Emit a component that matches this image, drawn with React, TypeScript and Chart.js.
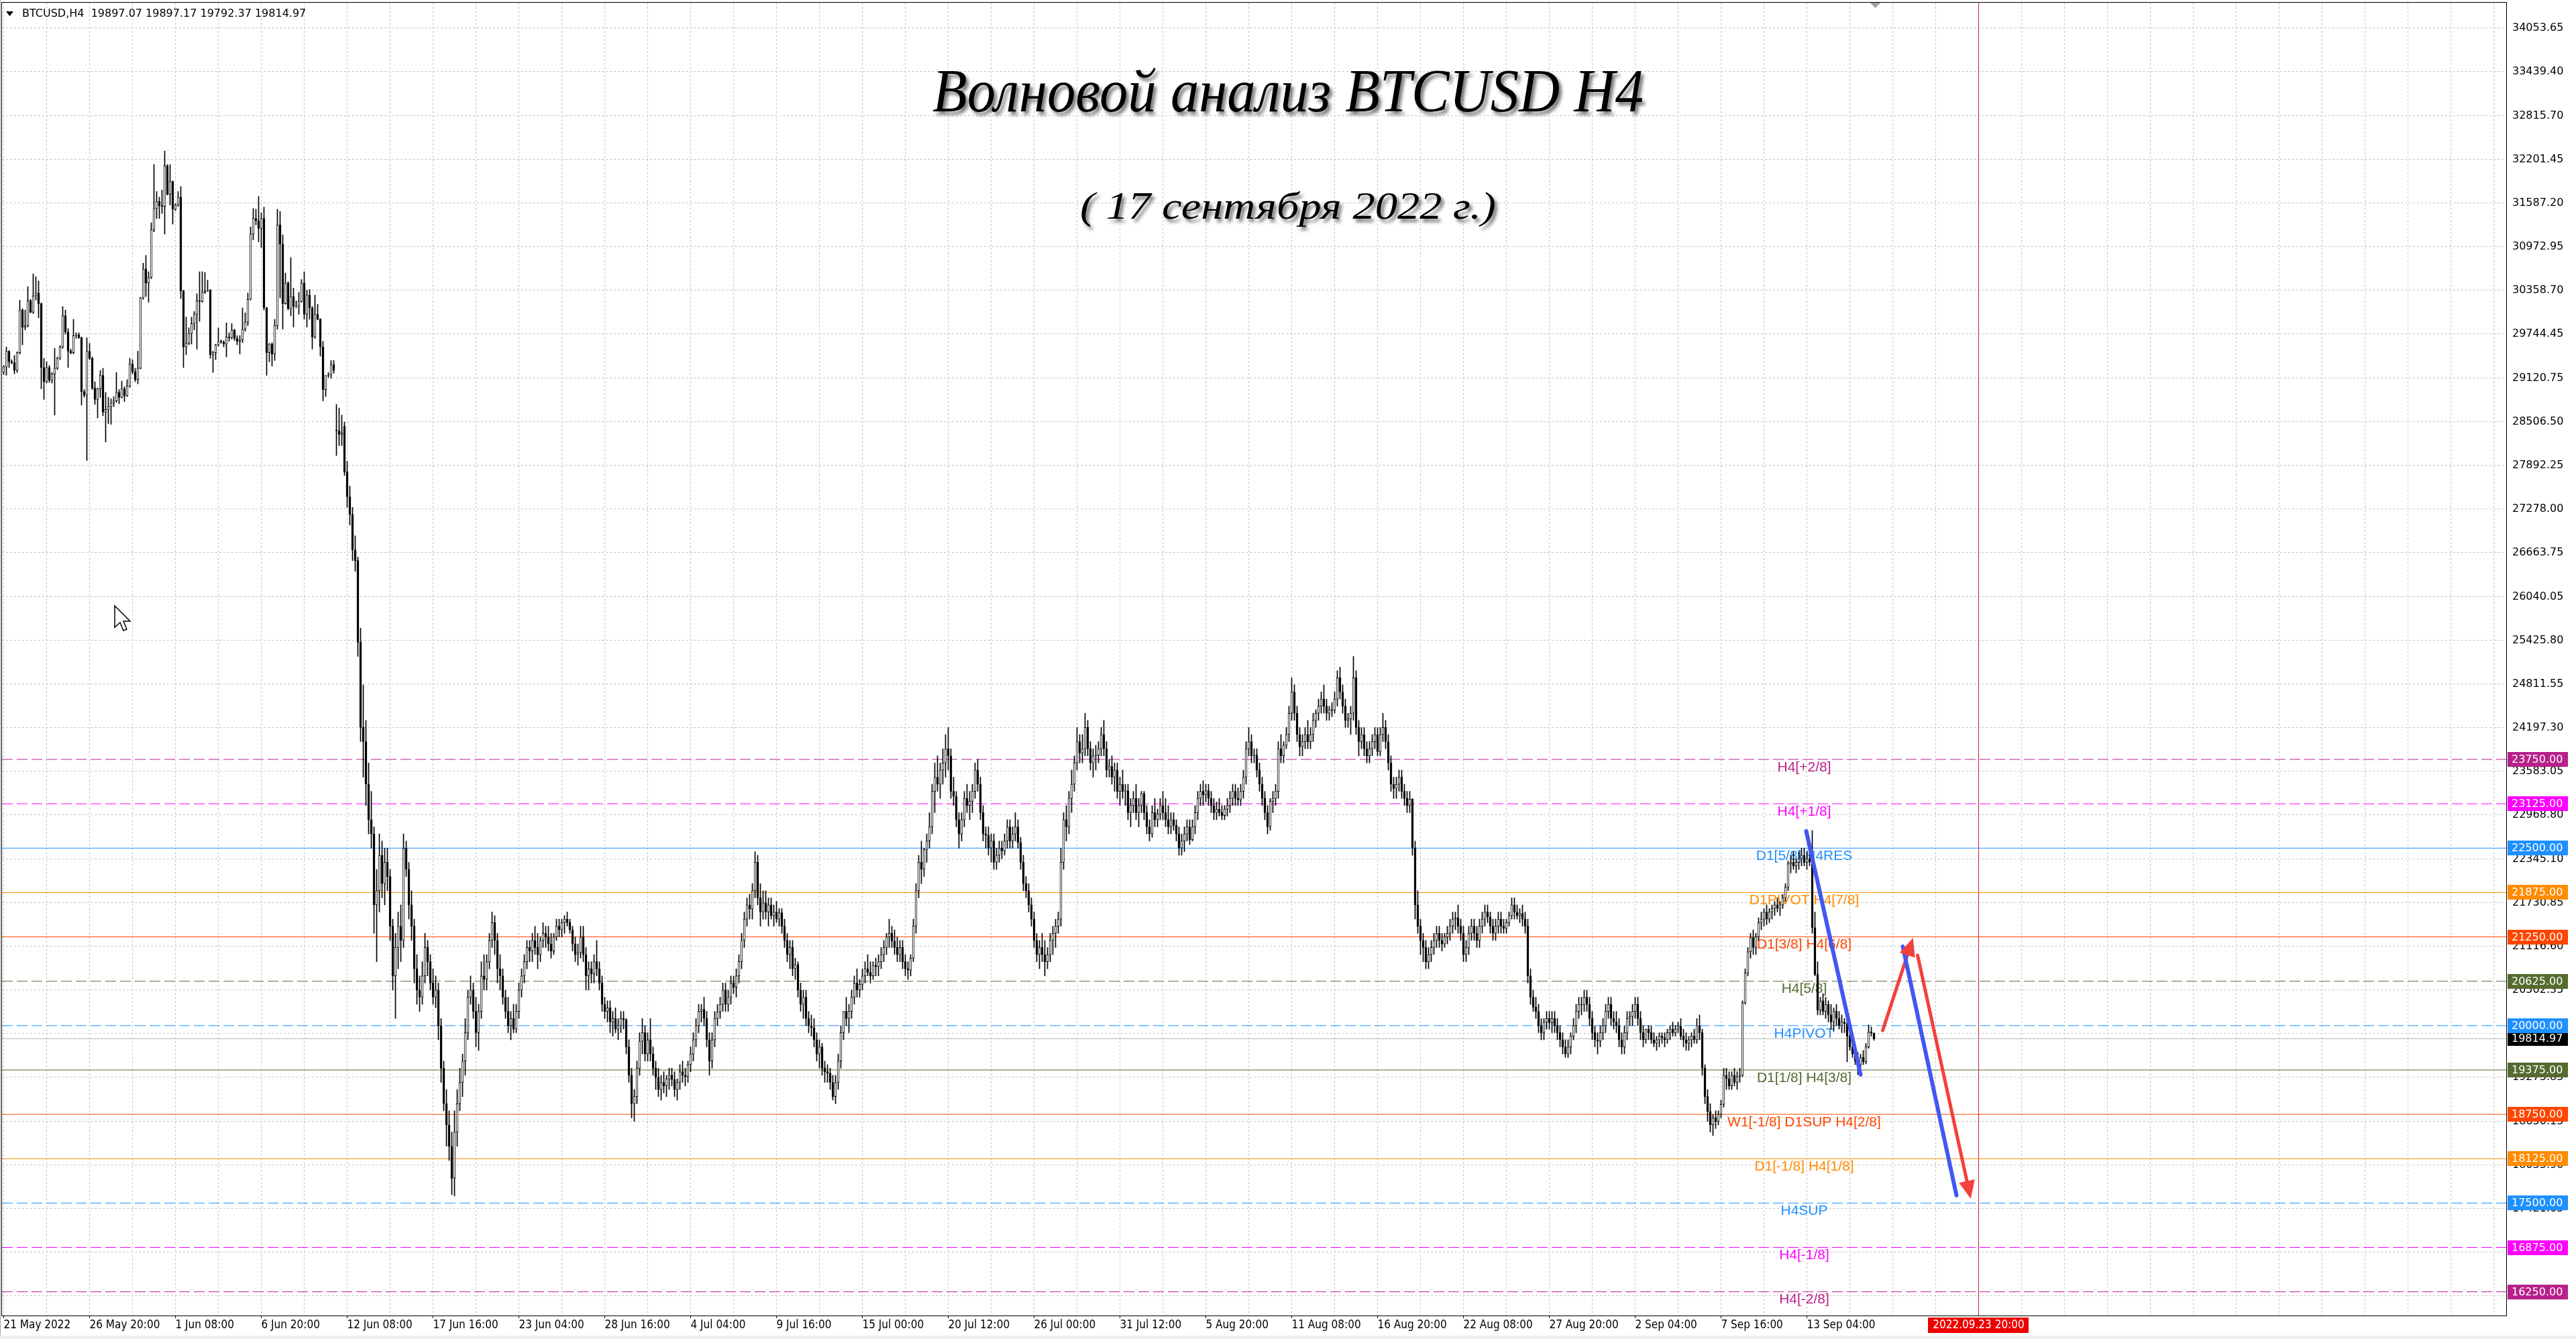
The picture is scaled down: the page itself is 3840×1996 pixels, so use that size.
import { useEffect, useRef } from "react";
import { Chart, registerables } from "chart.js";

Chart.register(...registerables);

const headerText = "BTCUSD,H4  19897.07 19897.17 19792.37 19814.97";
const titleText = "Волновой анализ BTCUSD H4";
const subtitleText = "( 17 сентября 2022 г.)";

// H4 candles: [open, high, low, close]
const candlesMay = [
  [29200,29300,29170,29280],[29280,29560,29160,29500],[29500,29510,29270,29350],[29350,29380,29320,29340],[29340,29440,29180,29230],
  [29230,29490,29200,29480],[29480,30220,29460,30080],[30080,30100,29590,29840],[29840,30080,29800,29860],[29860,30410,29840,30210],
  [30210,30230,30040,30050],[30050,30590,30030,30280],[30280,30550,30220,30320],[30320,30490,29970,30170],[30170,30180,28970,29270],
  [29270,29400,28820,29070],[29070,29350,29050,29270],[29270,29300,29060,29090],[29090,29200,29050,29180],[29180,29540,28600,29260],
  [29260,29420,29240,29400],[29400,29580,29380,29560],[29560,30130,29540,30000],[30000,30080,29740,29770],[29770,29820,29270,29500],
  [29500,29530,29460,29480],[29480,29950,29460,29720],[29720,29760,29680,29730],[29730,29760,29680,29690],[29690,29700,28740,28930],
  [28930,28960,28850,28880],[28880,29690,27960,29500],[29500,29610,29380,29400],[29400,29420,28960,28980],[28980,29070,28750,28820],
  [28820,28980,28560,28970],[28970,29230,28850,29160],[29160,29260,28590,28640],[28640,28920,28220,28680],[28680,28850,28480,28720],
  [28720,28830,28470,28770],[28770,28860,28720,28800],[28800,29200,28780,28920],[28920,28960,28760,28850],[28850,29080,28840,28970],
  [28970,29000,28790,28870],[28870,29100,28860,29010],[29010,29400,28990,29320],[29320,29380,29180,29210],[29210,29260,29070,29100],
  [29100,29500,29040,29260],[29260,30260,29250,30250],[30250,30740,30230,30660],[30660,30850,30270,30460],[30460,30620,30190,30540],
  [30540,31310,30520,31210],[31210,32130,31180,31510],[31510,31750,31370,31610],[31610,31670,31370,31550],[31550,31770,31440,31540],
  [31540,32320,31150,32110],[32110,32130,31700,31710],
];
const candlesJun = [
  [31710,32130,31560,31890],[31890,31900,31290,31500],[31500,31580,31480,31560],[31560,31750,31540,31670],[31670,31820,30240,30350],
  [30350,30360,29270,29560],[29560,29980,29450,29610],[29610,29830,29590,29750],[29750,29980,29600,29890],[29890,30060,29800,30020],
  [30020,30310,29530,30210],[30210,30620,29920,30200],[30200,30620,30190,30330],[30330,30610,30310,30350],[30350,30500,30340,30360],
  [30360,30370,29400,29450],[29450,29500,29200,29480],[29480,29600,29380,29590],[29590,29830,29570,29640],[29640,29660,29610,29630],
  [29630,29650,29560,29600],[29600,29900,29420,29700],[29700,29760,29640,29690],[29690,29890,29670,29800],[29800,29810,29650,29680],
  [29680,29720,29590,29640],[29640,29720,29460,29660],[29660,30110,29620,29810],[29810,30040,29780,29910],[29910,30320,29860,30230],
  [30230,31250,30220,31150],[31150,31510,31070,31370],[31370,31500,31280,31340],[31340,31680,31040,31230],[31230,31450,30960,31370],
  [31370,31530,30080,30110],[30110,30120,29160,29480],[29480,29610,29350,29600],[29600,29620,29290,29460],[29460,29950,29370,29860],
  [29860,31500,29810,31280],[31280,31470,30250,31010],[31010,31140,29810,30170],[30170,30600,30160,30460],[30460,30480,30080,30100],
  [30100,30820,30000,30270],[30270,30390,29840,30130],[30130,30210,30110,30140],[30140,30330,30020,30200],[30200,30510,30190,30460],
  [30460,30620,29950,30020],[30020,30360,29840,30290],[30290,30370,29950,30110],[30110,30130,29530,29700],[29700,30290,29680,30020],
  [30020,30160,29940,29950],[29950,29960,29430,29560],[29560,29640,28800,28960],[28960,29010,28860,29160],[29160,29200,29130,29170],
  [29170,29370,29120,29310],[29310,29370,29190,29230],[28390,28750,28030,28380],[28380,28700,28170,28330],[28330,28600,28170,28350],
  [28440,28500,27750,27800],[27800,27950,27300,27450],[27450,27600,27050,27200],[27200,27300,26550,26700],[26700,26900,26400,26550],
  [26550,26600,25200,25400],[25400,25600,24000,24200],[24200,24800,23500,24000],[24000,24300,23100,23400],[23400,23700,22700,22900],
  [22900,23300,22500,22700],[22700,22800,21300,21700],[21700,22200,20900,21900],[21900,22700,21600,22400],[22400,22600,21800,22000],
  [22000,22500,21700,22300],[22300,22500,21900,22100],[22100,22200,21200,21400],[21400,21500,20500,20700],[20700,21300,20100,21100],
  [21100,21600,20800,21400],[21400,21700,20900,21200],[21200,22700,21100,22500],[22500,22600,22100,22200],[22200,22300,21500,21700],
  [21700,21900,21200,21400],[21400,21500,20600,20800],[20800,21000,20300,20500],[20500,20700,20200,20400],[20400,20900,20300,20700],
  [20700,21300,20600,21100],[21100,21200,20700,20900],[20900,21000,20500,20600],[20600,20800,20300,20400],[20400,20700,20250,20500],
  [20500,20600,19800,20000],[20000,20100,19200,19400],[19400,19500,18800,18900],[18900,19100,18300,18600],[18600,18800,18100,18300],
  [18300,18500,17620,17850],[17850,18800,17600,18500],[18500,19100,18300,18900],[18900,19400,18800,19200],[19200,19600,19000,19500],
  [19500,20100,19300,19900],[19900,20500,19800,20400],[20400,20700,20300,20500],[20500,20600,20100,20200],[20200,20400,19700,19900],
  [19900,20300,19650,20200],[20200,20900,20100,20700],[20700,21000,20500,20650],[20650,21000,20500,20900],[20900,21300,20800,21200],
  [21200,21600,21100,21450],[21450,21550,21000,21200],[21200,21300,20600,20800],[20800,21000,20500,20700],[20700,20800,20300,20400],
  [20400,20500,20100,20200],[20200,20400,19900,20000],[20000,20200,19800,20100],[20100,20300,19900,19950],[19950,20300,19900,20200],
  [20200,20600,20100,20500],[20500,20800,20400,20700],[20700,21000,20600,20900],[20900,21200,20800,21100],[21100,21200,20900,21050],
  [21050,21300,20900,21200],[21200,21400,21000,21100],[21100,21300,20800,21000],[21000,21250,20900,21200],[21200,21450,21100,21300],
  [21300,21400,21100,21250],[21250,21400,21050,21150],[21150,21300,20950,21050],[21050,21300,21000,21250],[21250,21500,21200,21400],
  [21400,21500,21250,21350],[21350,21500,21250,21450],[21450,21550,21300,21500],[21500,21600,21400,21450],[21450,21500,21300,21350],
  [21350,21400,21050,21150],[21150,21250,20900,21000],[21000,21150,20850,21030],[21030,21400,20950,21250],[21250,21400,20900,21000],
  [21000,21100,20500,20700],[20700,20900,20500,20800],[20800,20900,20600,20730],[20730,21000,20600,20900],[20900,21200,20700,20800],
  [20800,20900,20500,20600],[20600,20700,20200,20300],[20300,20400,20100,20200],[20200,20350,20050,20250],[20250,20350,19900,20050],
  [20050,20200,19850,20100],[20100,20250,19900,19950],[19950,20100,19800,20000],[20000,20200,19900,20100],[20100,20200,19950,20080],
  [20080,20100,19600,19700],[19700,19800,19200,19300],[19300,19400,18700,18900],[18900,19100,18650,19000],[19000,19500,18900,19400],
  [19400,19900,19300,19780],
];
const candlesJul = [
  [19780,20100,19600,19900],[19900,20000,19500,19600],[19600,19900,19500,19800],[19800,20100,19500,19600],[19600,19700,19300,19400],
  [19400,19500,19100,19270],[19270,19400,19000,19100],[19100,19300,18950,19200],[19200,19350,19050,19150],[19150,19300,19000,19250],
  [19250,19400,19100,19300],[19300,19400,19150,19240],[19240,19350,19000,19100],[19100,19250,18950,19200],[19200,19450,19100,19350],
  [19350,19500,19200,19300],[19300,19400,19150,19280],[19280,19500,19200,19450],[19450,19700,19350,19600],[19600,19900,19500,19800],
  [19800,20100,19700,20000],[20000,20300,19900,20200],[20200,20300,20050,20230],[20230,20400,20000,20100],[20100,20200,19700,19800],
  [19800,19900,19300,19500],[19500,19900,19400,19800],[19800,20200,19700,20100],[20100,20300,20000,20190],[20190,20400,20100,20300],
  [20300,20600,20200,20500],[20500,20600,20200,20300],[20300,20500,20200,20400],[20400,20700,20300,20600],[20600,20700,20450,20540],
  [20540,20800,20400,20700],[20700,21000,20600,20900],[20900,21300,20800,21200],[21200,21600,21100,21500],[21500,21800,21400,21700],
  [21700,21850,21500,21640],[21640,22000,21500,21900],[21900,22450,21800,22300],[22300,22400,21700,21800],[21800,22000,21400,21600],
  [21600,21900,21500,21730],[21730,21900,21500,21600],[21600,21800,21400,21700],[21700,21800,21500,21550],[21550,21700,21400,21600],
  [21600,21750,21450,21500],[21500,21650,21400,21590],[21590,21650,21300,21400],[21400,21500,21100,21200],[21200,21300,20900,21000],
  [21000,21200,20800,21100],[21100,21200,20700,20800],[20800,20950,20650,20860],[20860,20900,20400,20500],[20500,20600,20200,20300],
  [20300,20500,20100,20400],[20400,20500,20000,20100],[20100,20200,19900,20000],[20000,20150,19850,19970],[19970,20100,19700,19800],
  [19800,19900,19500,19600],[19600,19800,19400,19700],[19700,19750,19300,19400],[19400,19500,19200,19350],[19350,19450,19200,19330],
  [19330,19400,19100,19200],[19200,19300,18950,19000],[19000,19300,18900,19200],[19200,19600,19100,19500],[19500,20000,19400,19900],
  [19900,20200,19800,20200],[20200,20400,20000,20100],[20100,20300,19900,20200],[20200,20500,20100,20400],[20400,20700,20300,20600],
  [20600,20800,20400,20500],[20500,20650,20400,20580],[20580,20800,20500,20700],[20700,20900,20600,20800],[20800,21000,20700,20750],
  [20750,20900,20600,20700],[20700,20900,20650,20850],[20850,20950,20700,20830],[20830,21000,20700,20900],[20900,21100,20800,21000],
  [21000,21200,20900,21100],[21100,21300,21000,21250],[21250,21500,21100,21300],[21300,21400,21100,21190],[21190,21350,21000,21100],
  [21100,21250,20900,21000],[21000,21200,20900,21100],[21100,21200,20800,20900],[20900,21000,20700,20800],[20800,20900,20650,20780],
  [20780,21000,20700,20950],[20950,21500,20900,21400],[21400,22000,21300,21900],[21900,22400,21800,22300],[22300,22600,22000,22200],
  [22200,22500,22100,22480],[22480,22700,22300,22600],[22600,23000,22500,22800],[22800,23400,22700,23300],[23300,23700,23000,23500],
  [23500,23800,23300,23400],[23400,23700,23200,23600],[23600,23900,23400,23700],[23700,24100,23500,23900],[23900,24200,23600,23800],
  [23800,23900,23200,23300],[23300,23500,23100,23230],[23230,23300,22800,22900],[22900,23000,22500,22700],[22700,23000,22600,22900],
  [22900,23300,22800,23200],[23200,23400,23000,23100],[23100,23300,22900,23160],[23160,23400,23000,23300],[23300,23700,23200,23600],
  [23600,23750,23300,23400],[23400,23500,22900,23000],[23000,23100,22600,22700],[22700,22800,22500,22680],[22680,22800,22400,22500],
  [22500,22700,22300,22600],[22600,22700,22200,22300],[22300,22500,22200,22400],[22400,22600,22300,22500],[22500,22600,22350,22460],
  [22460,22700,22400,22600],[22600,22900,22500,22800],[22800,22900,22500,22600],[22600,22800,22500,22700],[22700,23000,22600,22800],
  [22800,22900,22500,22580],[22580,22650,22200,22300],[22300,22400,21900,22000],[22000,22100,21800,21900],[21900,22000,21600,21700],
  [21700,21800,21400,21500],[21500,21600,21100,21200],[21200,21300,20900,21000],[21000,21200,20800,21100],[21100,21300,20900,21000],
  [21000,21200,20700,20900],[20900,21100,20800,21000],[21000,21300,20900,21200],[21200,21400,21000,21300],[21300,21500,21100,21400],
  [21400,21600,21300,21500],[21500,22500,21400,22300],[22300,23000,22200,22900],[22900,23100,22600,22800],[22800,23300,22700,23200],
  [23200,23600,23000,23400],[23400,23800,23300,23700],[23700,24200,23600,24000],[24000,24100,23700,23840],[23840,24100,23700,23900],
  [23900,24400,23800,24200],[24200,24300,23800,23900],[23900,24000,23600,23700],[23700,23900,23500,23800],[23800,23950,23600,23810],
  [23810,24000,23700,23900],[23900,24200,23800,24100],[24100,24300,23800,23900],[23900,24000,23500,23600],[23600,23750,23500,23650],
  [23650,23800,23400,23500],[23500,23700,23300,23600],[23600,23700,23200,23300],[23300,23500,23100,23400],[23400,23600,23200,23300],
  [23300,23400,23100,23310],
];
const candlesAug = [
  [23310,23400,22900,23000],[23000,23200,22800,23100],[23100,23300,23000,23200],[23200,23400,22900,23000],[23000,23200,22800,23100],
  [23100,23300,23000,23270],[23270,23300,22900,23000],[23000,23100,22700,22800],[22800,22900,22600,22700],[22700,23100,22650,23000],
  [23000,23200,22800,22900],[22900,23050,22800,22980],[22980,23200,22900,23100],[23100,23300,22900,23000],[23000,23200,22800,22900],
  [22900,23100,22700,22800],[22800,23000,22700,22900],[22900,23000,22750,22820],[22820,22900,22600,22700],[22700,22800,22400,22500],
  [22500,22700,22400,22600],[22600,22800,22450,22700],[22700,22900,22600,22800],[22800,22900,22550,22620],[22620,22900,22600,22800],
  [22800,23100,22700,23000],[23000,23300,22900,23200],[23200,23400,23100,23300],[23300,23450,23100,23250],[23250,23400,23150,23310],
  [23310,23400,23100,23200],[23200,23300,23000,23100],[23100,23200,22900,23000],[23000,23150,22900,23050],[23050,23200,22950,23000],
  [23000,23100,22900,22960],[22960,23100,22900,23050],[23050,23200,22950,23100],[23100,23300,23000,23200],[23200,23400,23100,23300],
  [23300,23400,23100,23200],[23200,23350,23100,23180],[23180,23400,23100,23300],[23300,23600,23200,23500],[23500,24000,23400,23900],
  [23900,24200,23800,24000],[24000,24100,23700,23800],[23800,23900,23700,23810],[23810,23900,23500,23600],[23600,23700,23300,23400],
  [23400,23500,23100,23200],[23200,23300,22900,23000],[23000,23100,22700,22800],[22800,23200,22750,23160],[23160,23300,23000,23200],
  [23200,23400,23100,23300],[23300,24000,23200,23900],[23900,24100,23700,23800],[23800,24000,23700,23950],[23950,24200,23900,24100],
  [24100,24500,24000,24400],[24400,24900,24300,24700],[24700,24800,24300,24400],[24400,24500,24000,24100],[24100,24200,23800,23930],
  [23930,24100,23800,24000],[24000,24200,23900,24100],[24100,24300,23900,24000],[24000,24200,23900,24100],[24100,24400,24000,24300],
  [24300,24450,24200,24400],[24400,24600,24300,24500],[24500,24700,24400,24600],[24600,24800,24400,24500],[24500,24600,24300,24400],
  [24400,24500,24300,24450],[24450,24550,24350,24440],[24440,24700,24400,24600],[24600,25000,24500,24900],[24900,25050,24600,24700],
  [24700,24800,24400,24500],[24500,24600,24200,24300],[24300,24400,24200,24320],[24320,24500,24100,24400],[24400,25200,24300,24900],
  [24900,25000,24100,24200],[24200,24300,23800,24000],[24000,24200,23900,24100],[24100,24200,23800,23900],[23900,24000,23700,23800],
  [23800,24000,23700,23900],[23900,24100,23800,24000],[24000,24200,23900,24100],[24100,24200,23800,23860],[23860,24200,23800,24100],
  [24100,24400,24000,24200],[24200,24300,23900,24000],[24000,24100,23600,23700],[23700,23800,23300,23400],[23400,23500,23200,23340],
  [23340,23500,23200,23400],[23400,23600,23300,23500],[23500,23600,23200,23300],[23300,23400,23100,23200],[23200,23300,23000,23100],
  [23100,23300,23000,23190],[23190,23200,22400,22500],[22500,22600,21500,21700],[21700,21900,21300,21400],[21400,21500,21000,21200],
  [21200,21300,20900,21100],[21100,21200,20800,20900],[20900,21100,20800,21000],[21000,21200,20900,21100],[21100,21300,21000,21200],
  [21200,21400,21100,21300],[21300,21400,21100,21200],[21200,21300,21050,21150],[21150,21300,21100,21250],[21250,21400,21150,21300],
  [21300,21500,21200,21400],[21400,21600,21300,21500],[21500,21600,21350,21520],[21520,21700,21300,21400],[21400,21500,21200,21300],
  [21300,21400,20900,21000],[21000,21200,20900,21100],[21100,21400,21000,21300],[21300,21500,21200,21400],[21400,21500,21200,21300],
  [21300,21400,21100,21200],[21200,21500,21100,21400],[21400,21600,21300,21500],[21500,21700,21400,21600],[21600,21700,21450,21530],
  [21530,21600,21300,21400],[21400,21500,21200,21300],[21300,21500,21200,21400],[21400,21600,21300,21500],[21500,21600,21300,21400],
  [21400,21500,21300,21370],[21370,21500,21300,21450],[21450,21600,21400,21550],[21550,21800,21500,21700],[21700,21800,21500,21600],
  [21600,21700,21500,21550],[21550,21650,21450,21580],[21580,21700,21400,21500],[21500,21600,21300,21400],[21400,21500,20600,20700],
  [20700,20800,20300,20400],[20400,20500,20200,20260],[20260,20400,20100,20200],[20200,20300,19900,20000],[20000,20100,19800,19900],
  [19900,20100,19800,20050],[20050,20200,19950,20100],[20100,20200,19950,20040],[20040,20200,19900,20100],[20100,20200,19900,20000],
  [20000,20100,19800,19900],[19900,20000,19700,19800],[19800,19900,19600,19700],[19700,19800,19550,19600],[19600,19800,19550,19700],
  [19700,19900,19600,19850],[19850,20100,19800,20000],[20000,20300,19900,20200],[20200,20400,20100,20300],[20300,20400,20150,20290],
  [20290,20500,20200,20400],[20400,20500,20200,20300],[20300,20400,20000,20100],[20100,20200,19800,19900],[19900,20000,19700,19800],
  [19800,19900,19600,19780],[19780,20000,19700,19900],[19900,20100,19800,20000],[20000,20300,19900,20200],[20200,20400,20100,20300],
  [20300,20400,20000,20100],[20100,20200,19950,20050],[20050,20200,19900,20000],[20000,20100,19700,19800],[19800,19900,19600,19700],
  [19700,20000,19600,19900],[19900,20200,19800,20100],[20100,20200,20000,20130],
];
const candlesSep = [
  [20130,20300,20000,20200],[20200,20400,20100,20300],[20300,20400,20000,20100],[20100,20200,19800,19900],[19900,20000,19700,19800],
  [19800,19950,19750,19950],[19950,20000,19800,19900],[19900,20000,19750,19800],[19800,19900,19700,19750],[19750,19850,19650,19800],
  [19800,19900,19700,19850],[19850,19900,19750,19830],[19830,19900,19700,19800],[19800,19950,19750,19900],[19900,20000,19800,19950],
  [19950,20050,19850,19900],[19900,20000,19850,19950],[19950,20050,19900,19990],[19990,20100,19800,19850],[19850,19950,19700,19800],
  [19800,19900,19650,19750],[19750,19850,19650,19800],[19800,19900,19700,19850],[19850,19950,19750,19800],[19800,20100,19750,20000],
  [20000,20150,19800,19900],[19900,19950,19300,19400],[19400,19450,18900,19000],[19000,19100,18650,18790],[18790,18900,18500,18600],
  [18600,18750,18450,18700],[18700,18800,18550,18650],[18650,18800,18600,18750],[18750,18950,18700,18890],[18890,19400,18850,19300],
  [19300,19400,19100,19250],[19250,19350,19100,19150],[19150,19350,19100,19300],[19300,19400,19150,19200],[19200,19350,19100,19280],
  [19280,19400,19200,19300],[19300,20350,19280,20320],[20320,20800,20300,20740],[20740,21100,20700,21040],[21040,21300,20950,21240],
  [21240,21350,21000,21100],[21100,21300,21000,21250],[21250,21520,21200,21450],[21450,21600,21350,21500],[21500,21650,21400,21600],
  [21600,21700,21420,21500],[21500,21650,21450,21600],[21600,21700,21500,21650],[21650,21750,21550,21700],[21700,21800,21600,21650],
  [21650,21750,21550,21700],[21700,21850,21650,21800],[21800,22000,21750,21950],[21950,22320,21900,22280],[22280,22400,22150,22300],
  [22300,22450,22200,22250],[22250,22350,22150,22300],[22300,22450,22200,22350],[22350,22500,22250,22400],[22400,22500,22250,22300],
  [22300,22450,22200,22350],[22350,22500,22250,22300],[22300,22750,21300,21380],[21380,21600,20700,20720],[20720,20900,20150,20220],
  [20220,20400,20150,20350],[20350,20450,20150,20200],[20200,20400,20100,20300],[20300,20350,20050,20150],[20150,20300,19950,20050],
  [20050,20250,19920,20200],[20200,20300,20000,20100],[20100,20200,19950,20000],[20000,20150,19900,20050],[20050,20100,19900,20030],
  [20030,20050,19490,19850],[19850,19900,19650,19700],[19700,19780,19550,19600],[19600,19700,19450,19500],[19500,19620,19310,19450],
  [19450,19600,19400,19550],[19550,19650,19450,19490],[19490,19750,19460,19700],[19700,20010,19680,19910],[19910,19980,19850,19897.07],
  [19897.07,19897.17,19792.37,19814.97],
];

const priceTicks = [
  16193.15, 16807.4, 17421.65, 18035.9, 18650.15, 19273.85, 19888.1, 20502.35, 21116.6, 21730.85,
  22345.1, 22968.8, 23583.05, 24197.3, 24811.55, 25425.8, 26040.05, 26663.75, 27278.0, 27892.25,
  28506.5, 29120.75, 29744.45, 30358.7, 30972.95, 31587.2, 32201.45, 32815.7, 33439.4, 34053.65,
];
const timeLabels = [
  "21 May 2022", "26 May 20:00", "1 Jun 08:00", "6 Jun 20:00", "12 Jun 08:00", "17 Jun 16:00",
  "23 Jun 04:00", "28 Jun 16:00", "4 Jul 04:00", "9 Jul 16:00", "15 Jul 00:00", "20 Jul 12:00",
  "26 Jul 00:00", "31 Jul 12:00", "5 Aug 20:00", "11 Aug 08:00", "16 Aug 20:00", "22 Aug 08:00",
  "27 Aug 20:00", "2 Sep 04:00", "7 Sep 16:00", "13 Sep 04:00",
];

const levelPrices = [23750, 23125, 22500, 21875, 21250, 20625, 20000, 19375, 18750, 18125, 17500, 16875, 16250];
const levelNames = [
  "H4[+2/8]", "H4[+1/8]", "D1[5/8] H4RES", "D1PIVOT H4[7/8]", "D1[3/8] H4[6/8]", "H4[5/8]", "H4PIVOT",
  "D1[1/8] H4[3/8]", "W1[-1/8] D1SUP H4[2/8]", "D1[-1/8] H4[1/8]", "H4SUP", "H4[-1/8]", "H4[-2/8]",
];
const levelColors = [
  "#B8208A", "#FF00FF", "#1E90FF", "#FF8C00", "#FF4500", "#556B2F", "#1E90FF",
  "#556B2F", "#FF4500", "#FF8C00", "#1E90FF", "#FF00FF", "#B8208A",
];
const levelDashed = [true, true, false, false, false, true, true, false, false, false, true, true, true];

const bidPrice = 19814.97;
const futureLineBar = 736;
const futureLineLabel = "2022.09.23 20:00";

// wave forecast strokes: [barIndex, price]
const blueWave1 = [[671.75, 22739], [692, 19309]];
const blueWave2 = [[707.75, 21113], [727.75, 17608]];
const redArrowUp = [[700.25, 19932], [711, 21173]];
const redArrowDown = [[713.25, 20991], [732.7, 17625]];

const W = 3840;
const H = 1996;
const X_MIN = -0.625;
const X_MAX = 932.625;
const Y_MAX = 34409.6;
const Y_MIN = 15915.95;
const LABEL_BAR = 671;
const BLUE = "#4257F2";
const RED = "#F2413C";
const AXIS_FONT = '"DejaVu Sans", Verdana, sans-serif';
const TIME_FONT = '"DejaVu Sans Condensed", "Liberation Sans Narrow", "Roboto Condensed", "DejaVu Sans", sans-serif';

export default function App() {
  const ref = useRef<HTMLCanvasElement>(null);

  useEffect(() => {
    document.body.style.margin = "0";
    document.body.style.overflow = "hidden";
    const canvas = ref.current;
    if (!canvas) return;

    const candles = [...candlesMay, ...candlesJun, ...candlesJul, ...candlesAug, ...candlesSep];
    const bodies = candles.map((c, i) => ({ x: i, y: [c[0], c[3]] }));
    const wicks = candles.map((c, i) => ({ x: i, y: [c[2], c[1]] }));
    const bodyFill = candles.map((c) => (c[3] >= c[0] ? "#ffffff" : "#000000"));

    const datasets: any[] = [];
    const line = (pts: number[][], color: string, width: number, order: number, extra: any = {}) => ({
      type: "line",
      data: pts.map((p) => ({ x: p[0], y: p[1] })),
      borderColor: color,
      borderWidth: width,
      pointRadius: 0,
      tension: 0,
      fill: false,
      order,
      ...extra,
    });

    datasets.push(line(blueWave1, BLUE, 6, 0, { borderCapStyle: "round" }));
    datasets.push(line(blueWave2, BLUE, 6, 0, { borderCapStyle: "round" }));
    datasets.push(line(redArrowUp, RED, 5, 0, { borderCapStyle: "round" }));
    datasets.push(line(redArrowDown, RED, 5, 0, { borderCapStyle: "round" }));

    datasets.push({
      type: "bar",
      data: bodies,
      backgroundColor: bodyFill,
      borderColor: "#000000",
      borderWidth: 1,
      borderSkipped: false,
      barThickness: 3,
      minBarLength: 1,
      grouped: false,
      order: 1,
    });
    datasets.push({
      type: "bar",
      data: wicks,
      backgroundColor: "#000000",
      borderWidth: 0,
      barThickness: 1,
      grouped: false,
      order: 2,
    });

    levelPrices.forEach((p, k) => {
      datasets.push(
        line([[X_MIN, p], [X_MAX, p]], levelColors[k], 1, 4, { borderDash: levelDashed[k] ? [16, 6] : [] })
      );
    });
    datasets.push(line([[X_MIN, bidPrice], [X_MAX, bidPrice]], "#B4B4B4", 1, 5));
    datasets.push(line([[futureLineBar, Y_MIN], [futureLineBar, Y_MAX]], "#C62828", 1, 5));

    const overlay = {
      id: "overlay",
      beforeDraw(chart: any) {
        const { ctx } = chart;
        ctx.save();
        ctx.fillStyle = "#ffffff";
        ctx.fillRect(0, 0, chart.width, chart.height);
        ctx.restore();
      },
      beforeDatasetsDraw(chart: any) {
        const { ctx, scales } = chart;
        const xs = scales.x;
        const ys = scales.y;
        ctx.save();
        // level captions
        ctx.font = '21px "Liberation Sans", Arial, sans-serif';
        ctx.textAlign = "center";
        ctx.textBaseline = "middle";
        const lx = xs.getPixelForValue(LABEL_BAR);
        levelPrices.forEach((p, k) => {
          ctx.fillStyle = levelColors[k];
          ctx.fillText(levelNames[k], lx, ys.getPixelForValue(p) + 12);
        });
        // title + subtitle
        const drawStretched = (text: string, font: string, cx: number, baseY: number, targetW: number) => {
          ctx.save();
          ctx.font = font;
          const tw = ctx.measureText(text).width;
          ctx.shadowColor = "rgba(0,0,0,0.55)";
          ctx.shadowOffsetX = 4;
          ctx.shadowOffsetY = 5;
          ctx.shadowBlur = 5;
          ctx.fillStyle = "#000000";
          ctx.textAlign = "center";
          ctx.textBaseline = "alphabetic";
          ctx.translate(cx, baseY);
          ctx.scale(targetW / tw, 1);
          ctx.fillText(text, 0, 0);
          ctx.restore();
        };
        drawStretched(titleText, 'italic 92px "Liberation Serif", serif', 1920, 166, 1060);
        drawStretched(subtitleText, 'italic 56px "Liberation Serif", serif', 1920, 326, 620);
        ctx.restore();
      },
      afterDatasetsDraw(chart: any) {
        const { ctx, scales } = chart;
        const xs = scales.x;
        const ys = scales.y;
        ctx.save();
        [redArrowUp, redArrowDown].forEach((a) => {
          const x0 = xs.getPixelForValue(a[0][0]);
          const y0 = ys.getPixelForValue(a[0][1]);
          const x1 = xs.getPixelForValue(a[1][0]);
          const y1 = ys.getPixelForValue(a[1][1]);
          const len = Math.hypot(x1 - x0, y1 - y0);
          const ux = (x1 - x0) / len;
          const uy = (y1 - y0) / len;
          const tx = x1 + ux * 7;
          const ty = y1 + uy * 7;
          const bx = tx - ux * 27;
          const by = ty - uy * 27;
          const nx = -uy;
          const ny = ux;
          ctx.beginPath();
          ctx.moveTo(tx, ty);
          ctx.lineTo(bx + nx * 12, by + ny * 12);
          ctx.lineTo(bx - nx * 12, by - ny * 12);
          ctx.closePath();
          ctx.fillStyle = RED;
          ctx.fill();
        });
        ctx.restore();
      },
      afterDraw(chart: any) {
        const { ctx, scales, chartArea } = chart;
        const xs = scales.x;
        const ys = scales.y;
        ctx.save();
        // frame
        ctx.strokeStyle = "#000000";
        ctx.lineWidth = 1;
        ctx.strokeRect(chartArea.left - 0.5, chartArea.top - 0.5, chartArea.right - chartArea.left + 1, chartArea.bottom - chartArea.top + 1);
        ctx.fillStyle = "#A8A8A8";
        ctx.fillRect(0, 0, 1, H);
        ctx.fillStyle = "#EFEFEF";
        ctx.fillRect(0, H - 5, W, 5);

        // price boxes
        ctx.font = "16px " + AXIS_FONT;
        ctx.textAlign = "left";
        ctx.textBaseline = "middle";
        const box = (p: number, color: string, text: string) => {
          const y = Math.round(ys.getPixelForValue(p));
          ctx.fillStyle = color;
          ctx.fillRect(chartArea.right + 2, y - 11, 90, 22);
          ctx.fillStyle = "#ffffff";
          ctx.fillText(text, chartArea.right + 8, y + 1);
        };
        box(bidPrice, "#000000", bidPrice.toFixed(2));
        levelPrices.forEach((p, k) => box(p, levelColors[k], p.toFixed(2)));

        // future line date box
        const fx = xs.getPixelForValue(futureLineBar);
        ctx.font = "17px " + TIME_FONT;
        const dw = ctx.measureText(futureLineLabel).width + 14;
        ctx.fillStyle = "#EE0000";
        ctx.fillRect(Math.round(fx - dw / 2), chartArea.bottom + 3, Math.round(dw), 23);
        ctx.fillStyle = "#ffffff";
        ctx.textAlign = "center";
        ctx.fillText(futureLineLabel, fx, chartArea.bottom + 15);

        // header
        ctx.fillStyle = "#000000";
        ctx.beginPath();
        ctx.moveTo(9, 17);
        ctx.lineTo(20, 17);
        ctx.lineTo(14.5, 24);
        ctx.closePath();
        ctx.fill();
        ctx.font = "16px " + AXIS_FONT;
        ctx.textAlign = "left";
        ctx.textBaseline = "middle";
        ctx.fillText(headerText, 33, 21);

        // chart shift marker
        const sx = xs.getPixelForValue(candles.length - 1) + 2;
        ctx.fillStyle = "#A0A0A0";
        ctx.beginPath();
        ctx.moveTo(sx - 8, chartArea.top);
        ctx.lineTo(sx + 8, chartArea.top);
        ctx.lineTo(sx, chartArea.top + 8);
        ctx.closePath();
        ctx.fill();

        // mouse pointer
        const cx0 = 171;
        const cy0 = 903;
        const pts = [[0, 0], [0, 32], [8, 25], [13, 37], [18, 35], [13, 23], [23, 23]];
        ctx.beginPath();
        pts.forEach((q, i) => (i === 0 ? ctx.moveTo(cx0 + q[0], cy0 + q[1]) : ctx.lineTo(cx0 + q[0], cy0 + q[1])));
        ctx.closePath();
        ctx.fillStyle = "#ffffff";
        ctx.fill();
        ctx.strokeStyle = "#000000";
        ctx.lineWidth = 1.5;
        ctx.stroke();
        ctx.restore();
      },
    };

    const chart = new Chart(canvas, {
      type: "bar",
      data: { datasets },
      options: {
        responsive: false,
        maintainAspectRatio: false,
        animation: false,
        devicePixelRatio: 1,
        events: [],
        layout: { padding: { left: 3, top: 4, right: 0, bottom: 0 } },
        plugins: { legend: { display: false }, tooltip: { enabled: false }, title: { display: false } },
        scales: {
          x: {
            type: "linear",
            position: "bottom",
            min: X_MIN,
            max: X_MAX,
            offset: false,
            grid: {
              offset: false,
              color: "#C4C4C4",
              lineWidth: 1,
              drawTicks: true,
              tickLength: 4,
              tickColor: (c: any) => (c.tick && c.tick.label ? "#000000" : "rgba(0,0,0,0)"),
              tickBorderDash: [],
            },
            border: { display: true, color: "#000000", width: 1, dash: [3, 3] },
            ticks: {
              autoSkip: false,
              maxRotation: 0,
              minRotation: 0,
              align: "start",
              padding: 0,
              color: "#000000",
              font: { family: TIME_FONT, size: 17 },
              callback: (v: any) => {
                const k = Number(v) / 32;
                return Number.isInteger(k) && k < timeLabels.length ? timeLabels[k] : "";
              },
            },
            afterBuildTicks: (scale: any) => {
              const t: any[] = [];
              for (let v = 0; v <= 928; v += 16) t.push({ value: v });
              scale.ticks = t;
            },
            afterFit: (scale: any) => {
              scale.height = 35;
              scale.paddingLeft = 0;
              scale.paddingRight = 0;
            },
          },
          y: {
            type: "linear",
            position: "right",
            min: Y_MIN,
            max: Y_MAX,
            grid: { color: "#C4C4C4", lineWidth: 1, drawTicks: false },
            border: { display: true, color: "#000000", width: 1, dash: [3, 3] },
            ticks: {
              autoSkip: false,
              padding: 9,
              color: "#000000",
              font: { family: AXIS_FONT, size: 16 },
              callback: (v: any) => Number(v).toFixed(2),
            },
            afterBuildTicks: (scale: any) => {
              scale.ticks = priceTicks.map((v) => ({ value: v }));
            },
            afterFit: (scale: any) => {
              scale.width = 104;
              scale.paddingTop = 0;
              scale.paddingBottom = 0;
            },
          },
        },
      } as any,
      plugins: [overlay],
    } as any);

    return () => chart.destroy();
  }, []);

  return (
    <div style={{ position: "absolute", left: 0, top: 0, width: W, height: H, background: "#ffffff" }}>
      <canvas ref={ref} width={W} height={H} style={{ display: "block", width: W, height: H }} />
    </div>
  );
}
